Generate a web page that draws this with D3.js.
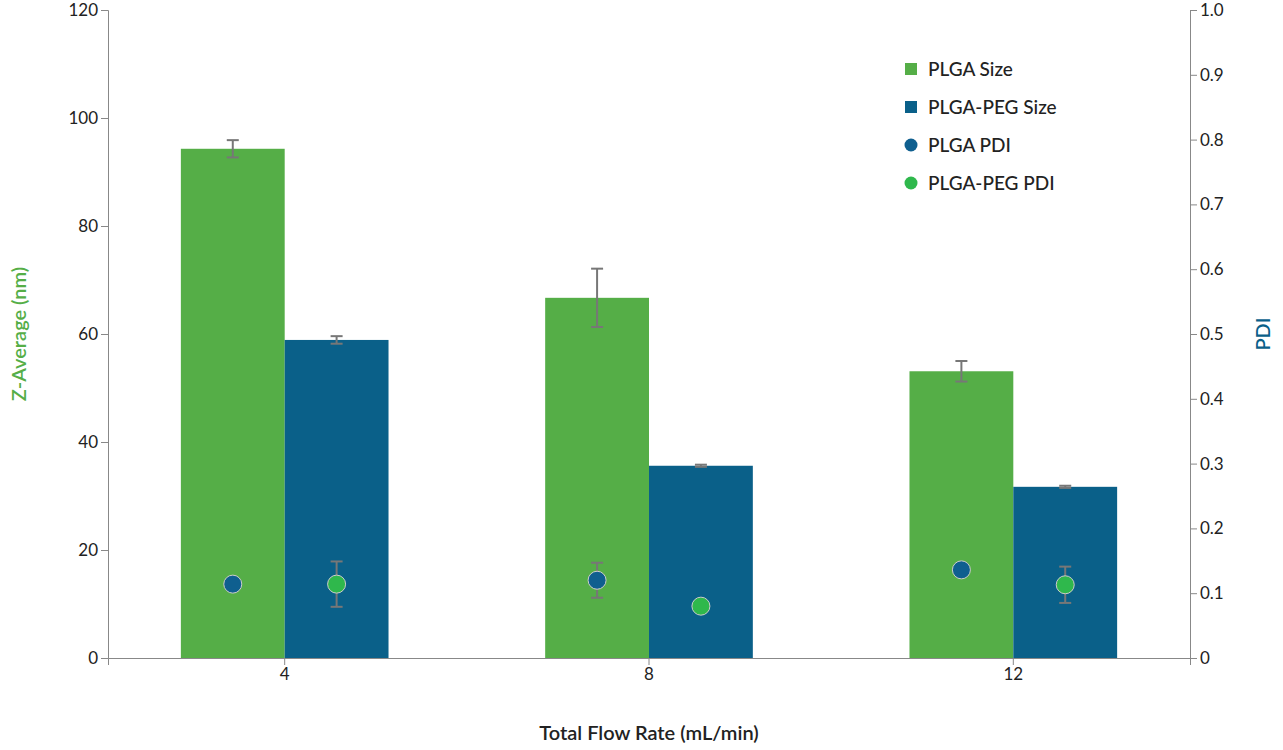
<!DOCTYPE html>
<html><head><meta charset="utf-8">
<script src="https://cdn.jsdelivr.net/npm/d3@7"></script>
<style>body{margin:0;background:#fff;font-family:Lato,"Open Sans",sans-serif;}</style>
</head><body><svg id="c" width="1283" height="750"></svg>
<script>
const flowRates = ["4", "8", "12"];
const plgaSize = [94.3, 66.7, 53.1];
const plgaSizeErr = [1.6, 5.4, 1.9];
const pegSize = [58.9, 35.6, 31.7];
const pegSizeErr = [0.7, 0.2, 0.2];
const plgaPdi = [0.114, 0.12, 0.136];
const plgaPdiErr = [0, 0.027, 0];
const pegPdi = [0.114, 0.08, 0.113];
const pegPdiErr = [0.035, 0, 0.028];

const green = "#55ae47", blue = "#0a6089", dotGreen = "#2fb84c", dotBlue = "#0f5f8f";
const margin = {top: 10, left: 108, right: 93, bottom: 92};
const width = 1283 - margin.left - margin.right;
const height = 750 - margin.top - margin.bottom;

const svg = d3.select("#c").append("g").attr("transform", `translate(${margin.left},${margin.top})`);
const x = d3.scaleBand().domain(flowRates).range([0, width]).paddingInner(0.43).paddingOuter(0.2);
const y = d3.scaleLinear().domain([0, 120]).range([height, 0]);
const y2 = d3.scaleLinear().domain([0, 1]).range([height, 0]);
const bw = x.bandwidth() / 2;

function styleAxis(g) {
  g.selectAll("path,line").attr("stroke", "#888");
  g.selectAll("text").attr("font-size", 17).attr("fill", "#222").attr("font-family", "Lato,sans-serif");
}
svg.append("g").call(d3.axisLeft(y).ticks(6).tickSize(7)).call(styleAxis);
svg.append("g").attr("transform", `translate(${width},0)`)
  .call(d3.axisRight(y2).ticks(10).tickSize(7).tickFormat(d => d === 0 ? "0" : d3.format(".1f")(d))).call(styleAxis);
svg.append("g").attr("transform", `translate(0,${height})`)
  .call(d3.axisBottom(x).tickSize(7)).call(styleAxis);

function errBar(cx, yv, e, sc) {
  if (!e) return;
  const g = svg.append("g").attr("stroke", "#777").attr("stroke-width", 2);
  g.append("line").attr("x1", cx).attr("x2", cx).attr("y1", sc(yv - e)).attr("y2", sc(yv + e));
  [yv - e, yv + e].forEach(v => g.append("line").attr("x1", cx - 6).attr("x2", cx + 6).attr("y1", sc(v)).attr("y2", sc(v)));
}

flowRates.forEach((f, i) => {
  const x0 = x(f);
  svg.append("rect").attr("x", x0).attr("y", y(plgaSize[i])).attr("width", bw).attr("height", height - y(plgaSize[i])).attr("fill", green);
  svg.append("rect").attr("x", x0 + bw).attr("y", y(pegSize[i])).attr("width", bw).attr("height", height - y(pegSize[i])).attr("fill", blue);
  errBar(x0 + bw / 2, plgaSize[i], plgaSizeErr[i], y);
  errBar(x0 + bw * 1.5, pegSize[i], pegSizeErr[i], y);
  errBar(x0 + bw / 2, plgaPdi[i], plgaPdiErr[i], y2);
  errBar(x0 + bw * 1.5, pegPdi[i], pegPdiErr[i], y2);
  svg.append("circle").attr("cx", x0 + bw / 2).attr("cy", y2(plgaPdi[i])).attr("r", 9).attr("fill", dotBlue).attr("stroke", "#ccc").attr("stroke-width", 1);
  svg.append("circle").attr("cx", x0 + bw * 1.5).attr("cy", y2(pegPdi[i])).attr("r", 9).attr("fill", dotGreen).attr("stroke", "#ccc").attr("stroke-width", 1);
});

svg.append("text").attr("x", width / 2).attr("y", height + 82).attr("text-anchor", "middle")
  .attr("font-size", 20).attr("font-weight", 600).attr("fill", "#222").text("Total Flow Rate (mL/min)");
svg.append("text").attr("transform", `translate(-82,${height / 2}) rotate(-90)`).attr("text-anchor", "middle")
  .attr("font-size", 20).attr("font-weight", 600).attr("fill", green).text("Z-Average (nm)");
svg.append("text").attr("transform", `translate(${width + 80},${height / 2}) rotate(-90)`).attr("text-anchor", "middle")
  .attr("font-size", 20).attr("font-weight", 600).attr("fill", blue).text("PDI");

const legend = [
  {t: "PLGA Size", c: green, s: "rect"},
  {t: "PLGA-PEG Size", c: blue, s: "rect"},
  {t: "PLGA PDI", c: dotBlue, s: "circle"},
  {t: "PLGA-PEG PDI", c: dotGreen, s: "circle"}
];
legend.forEach((d, i) => {
  const ly = 59 + i * 38;
  if (d.s === "rect") svg.append("rect").attr("x", 797).attr("y", ly - 6).attr("width", 12).attr("height", 12).attr("fill", d.c);
  else svg.append("circle").attr("cx", 803).attr("cy", ly).attr("r", 6.5).attr("fill", d.c);
  svg.append("text").attr("x", 820).attr("y", ly + 7).attr("font-size", 19).attr("font-weight", 500).attr("fill", "#222").text(d.t);
});
</script></body></html>
